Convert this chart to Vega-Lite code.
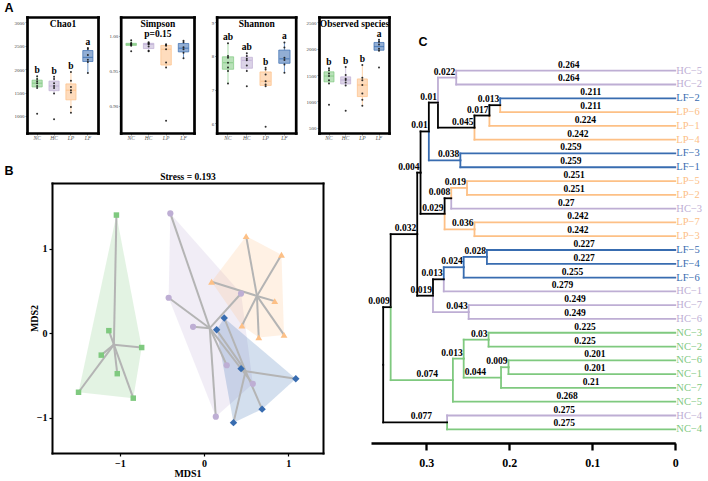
{
"$schema":"https://vega.github.io/schema/vega-lite/v6.json",
"width":708,"height":481,"autosize":{"type":"none"},"padding":0,"background":"white",
"config":{"view":{"stroke":null},"axis":{"grid":false,"domainColor":"#000000","tickColor":"#000000","labelColor":"#000000","titleColor":"#000000","labelFont":"Liberation Serif","titleFont":"Liberation Serif"}},
"datasets":{
"chao1":[
{"g":"NC","lab":"b","v":1050},{"g":"NC","lab":"b","v":1600},{"g":"NC","lab":"b","v":1640},{"g":"NC","lab":"b","v":1700},{"g":"NC","lab":"b","v":1740},{"g":"NC","lab":"b","v":1790},{"g":"NC","lab":"b","v":1850},
{"g":"HC","lab":"b","v":930},{"g":"HC","lab":"b","v":1480},{"g":"HC","lab":"b","v":1600},{"g":"HC","lab":"b","v":1640},{"g":"HC","lab":"b","v":1700},{"g":"HC","lab":"b","v":1790},{"g":"HC","lab":"b","v":1840},
{"g":"LP","lab":"b","v":1070},{"g":"LP","lab":"b","v":1190},{"g":"LP","lab":"b","v":1500},{"g":"LP","lab":"b","v":1550},{"g":"LP","lab":"b","v":1620},{"g":"LP","lab":"b","v":1750},{"g":"LP","lab":"b","v":1940},
{"g":"LF","lab":"a","v":1920},{"g":"LF","lab":"a","v":2150},{"g":"LF","lab":"a","v":2200},{"g":"LF","lab":"a","v":2300},{"g":"LF","lab":"a","v":2430},{"g":"LF","lab":"a","v":2450}],
"simpson":[
{"g":"NC","v":0.978},{"g":"NC","v":0.986},{"g":"NC","v":0.987},{"g":"NC","v":0.988},{"g":"NC","v":0.989},{"g":"NC","v":0.990},{"g":"NC","v":0.994},
{"g":"HC","v":0.978},{"g":"HC","v":0.979},{"g":"HC","v":0.985},{"g":"HC","v":0.988},{"g":"HC","v":0.989},{"g":"HC","v":0.990},{"g":"HC","v":0.991},
{"g":"LP","v":0.879},{"g":"LP","v":0.955},{"g":"LP","v":0.962},{"g":"LP","v":0.981},{"g":"LP","v":0.986},{"g":"LP","v":0.987},{"g":"LP","v":0.988},
{"g":"LF","v":0.968},{"g":"LF","v":0.976},{"g":"LF","v":0.981},{"g":"LF","v":0.984},{"g":"LF","v":0.991},{"g":"LF","v":0.993}],
"shannon":[
{"g":"NC","lab":"ab","v":7.18},{"g":"NC","lab":"ab","v":7.55},{"g":"NC","lab":"ab","v":7.66},{"g":"NC","lab":"ab","v":7.8},{"g":"NC","lab":"ab","v":7.95},{"g":"NC","lab":"ab","v":8.0},{"g":"NC","lab":"ab","v":8.38},
{"g":"HC","lab":"ab","v":7.1},{"g":"HC","lab":"ab","v":7.55},{"g":"HC","lab":"ab","v":7.72},{"g":"HC","lab":"ab","v":7.87},{"g":"HC","lab":"ab","v":7.92},{"g":"HC","lab":"ab","v":8.0},{"g":"HC","lab":"ab","v":8.08},
{"g":"LP","lab":"b","v":5.9},{"g":"LP","lab":"b","v":7.1},{"g":"LP","lab":"b","v":7.15},{"g":"LP","lab":"b","v":7.25},{"g":"LP","lab":"b","v":7.45},{"g":"LP","lab":"b","v":7.6},{"g":"LP","lab":"b","v":7.65},
{"g":"LF","lab":"a","v":7.5},{"g":"LF","lab":"a","v":7.75},{"g":"LF","lab":"a","v":7.88},{"g":"LF","lab":"a","v":7.95},{"g":"LF","lab":"a","v":8.25},{"g":"LF","lab":"a","v":8.4}],
"obs":[
{"g":"NC","lab":"b","v":937},{"g":"NC","lab":"b","v":1340},{"g":"NC","lab":"b","v":1400},{"g":"NC","lab":"b","v":1480},{"g":"NC","lab":"b","v":1530},{"g":"NC","lab":"b","v":1590},{"g":"NC","lab":"b","v":1630},
{"g":"HC","lab":"b","v":823},{"g":"HC","lab":"b","v":1300},{"g":"HC","lab":"b","v":1360},{"g":"HC","lab":"b","v":1405},{"g":"HC","lab":"b","v":1430},{"g":"HC","lab":"b","v":1500},{"g":"HC","lab":"b","v":1650},
{"g":"LP","lab":"b","v":918},{"g":"LP","lab":"b","v":1030},{"g":"LP","lab":"b","v":1150},{"g":"LP","lab":"b","v":1310},{"g":"LP","lab":"b","v":1400},{"g":"LP","lab":"b","v":1450},{"g":"LP","lab":"b","v":1690},
{"g":"LF","lab":"a","v":1640},{"g":"LF","lab":"a","v":1960},{"g":"LF","lab":"a","v":2000},{"g":"LF","lab":"a","v":2080},{"g":"LF","lab":"a","v":2130},{"g":"LF","lab":"a","v":2170}],
"nmds":[
{"g":"NC","x":-1.04,"y":1.40,"h":1},{"g":"NC","x":-0.74,"y":-0.17,"h":2},{"g":"NC","x":-0.84,"y":-0.77,"h":3},{"g":"NC","x":-1.49,"y":-0.70,"h":4},{"g":"NC","x":-1.13,"y":0.03,"h":null},{"g":"NC","x":-1.22,"y":-0.26,"h":null},{"g":"NC","x":-1.03,"y":-0.48,"h":null},
{"g":"HC","x":-0.40,"y":1.42,"h":1},{"g":"HC","x":0.44,"y":0.47,"h":2},{"g":"HC","x":0.58,"y":-0.60,"h":3},{"g":"HC","x":0.14,"y":-0.99,"h":4},{"g":"HC","x":-0.42,"y":0.42,"h":5},{"g":"HC","x":-0.13,"y":0.075,"h":null},{"g":"HC","x":0.27,"y":-0.38,"h":null},
{"g":"LP","x":0.50,"y":1.15,"h":1},{"g":"LP","x":0.92,"y":0.93,"h":2},{"g":"LP","x":0.95,"y":-0.02,"h":3},{"g":"LP","x":0.65,"y":-0.05,"h":4},{"g":"LP","x":0.45,"y":0.09,"h":5},{"g":"LP","x":0.09,"y":0.61,"h":6},{"g":"LP","x":0.84,"y":0.38,"h":null},
{"g":"LF","x":0.24,"y":0.18,"h":1},{"g":"LF","x":1.09,"y":-0.54,"h":2},{"g":"LF","x":0.69,"y":-0.90,"h":3},{"g":"LF","x":0.35,"y":-1.06,"h":4},{"g":"LF","x":0.15,"y":0.04,"h":5},{"g":"LF","x":0.44,"y":-0.42,"h":null}],
"tree":[
{"c":"HC−5","hp":0.264,"hc":0,"yp":0.5,"yc":0,"col":"HC","lab":"0.264"},
{"c":"HC−2","hp":0.264,"hc":0,"yp":0.5,"yc":1,"col":"HC","lab":"0.264"},
{"c":"LF−2","hp":0.211,"hc":0,"yp":2.5,"yc":2,"col":"LF","lab":"0.211"},
{"c":"LP−6","hp":0.211,"hc":0,"yp":2.5,"yc":3,"col":"LP","lab":"0.211"},
{"c":"LP−1","hp":0.224,"hc":0,"yp":3.25,"yc":4,"col":"LP","lab":"0.224"},
{"c":"LP−4","hp":0.242,"hc":0,"yp":4.125,"yc":5,"col":"LP","lab":"0.242"},
{"c":"LF−3","hp":0.259,"hc":0,"yp":6.5,"yc":6,"col":"LF","lab":"0.259"},
{"c":"LF−1","hp":0.259,"hc":0,"yp":6.5,"yc":7,"col":"LF","lab":"0.259"},
{"c":"LP−5","hp":0.251,"hc":0,"yp":8.5,"yc":8,"col":"LP","lab":"0.251"},
{"c":"LP−2","hp":0.251,"hc":0,"yp":8.5,"yc":9,"col":"LP","lab":"0.251"},
{"c":"HC−3","hp":0.27,"hc":0,"yp":9.25,"yc":10,"col":"HC","lab":"0.27"},
{"c":"LP−7","hp":0.242,"hc":0,"yp":11.5,"yc":11,"col":"LP","lab":"0.242"},
{"c":"LP−3","hp":0.242,"hc":0,"yp":11.5,"yc":12,"col":"LP","lab":"0.242"},
{"c":"LF−5","hp":0.227,"hc":0,"yp":13.5,"yc":13,"col":"LF","lab":"0.227"},
{"c":"LF−4","hp":0.227,"hc":0,"yp":13.5,"yc":14,"col":"LF","lab":"0.227"},
{"c":"LF−6","hp":0.255,"hc":0,"yp":14.25,"yc":15,"col":"LF","lab":"0.255"},
{"c":"HC−1","hp":0.279,"hc":0,"yp":15.125,"yc":16,"col":"HC","lab":"0.279"},
{"c":"HC−7","hp":0.249,"hc":0,"yp":17.5,"yc":17,"col":"HC","lab":"0.249"},
{"c":"HC−6","hp":0.249,"hc":0,"yp":17.5,"yc":18,"col":"HC","lab":"0.249"},
{"c":"NC−3","hp":0.225,"hc":0,"yp":19.5,"yc":19,"col":"NC","lab":"0.225"},
{"c":"NC−2","hp":0.225,"hc":0,"yp":19.5,"yc":20,"col":"NC","lab":"0.225"},
{"c":"NC−6","hp":0.201,"hc":0,"yp":21.5,"yc":21,"col":"NC","lab":"0.201"},
{"c":"NC−1","hp":0.201,"hc":0,"yp":21.5,"yc":22,"col":"NC","lab":"0.201"},
{"c":"NC−7","hp":0.21,"hc":0,"yp":22.25,"yc":23,"col":"NC","lab":"0.21"},
{"c":"NC−5","hp":0.268,"hc":0,"yp":22.4375,"yc":24,"col":"NC","lab":"0.268"},
{"c":"HC−4","hp":0.275,"hc":0,"yp":25.5,"yc":25,"col":"HC","lab":"0.275"},
{"c":"NC−4","hp":0.275,"hc":0,"yp":25.5,"yc":26,"col":"NC","lab":"0.275"},
{"c":"n1","hp":0.224,"hc":0.211,"yp":3.25,"yc":2.5,"col":"mix","lab":"0.013"},
{"c":"n2","hp":0.242,"hc":0.224,"yp":4.125,"yc":3.25,"col":"mix","lab":"0.017"},
{"c":"n3","hp":0.286,"hc":0.242,"yp":2.3125,"yc":4.125,"col":"mix","lab":"0.045"},
{"c":"n4","hp":0.286,"hc":0.264,"yp":2.3125,"yc":0.5,"col":"HC","lab":"0.022"},
{"c":"n5","hp":0.297,"hc":0.286,"yp":4.40625,"yc":2.3125,"col":"mix","lab":"0.01"},
{"c":"n6","hp":0.297,"hc":0.259,"yp":4.40625,"yc":6.5,"col":"LF","lab":"0.038"},
{"c":"n7","hp":0.307,"hc":0.297,"yp":7.390625,"yc":4.40625,"col":"mix","lab":"0.01"},
{"c":"n8","hp":0.27,"hc":0.251,"yp":9.25,"yc":8.5,"col":"LP","lab":"0.019"},
{"c":"n9","hp":0.278,"hc":0.27,"yp":10.375,"yc":9.25,"col":"mix","lab":"0.008"},
{"c":"n10","hp":0.278,"hc":0.242,"yp":10.375,"yc":11.5,"col":"LP","lab":"0.036"},
{"c":"n11","hp":0.307,"hc":0.278,"yp":7.390625,"yc":10.375,"col":"mix","lab":"0.029"},
{"c":"n12","hp":0.311,"hc":0.307,"yp":11.8515625,"yc":7.390625,"col":"mix","lab":"0.004"},
{"c":"n13","hp":0.255,"hc":0.227,"yp":14.25,"yc":13.5,"col":"LF","lab":"0.028"},
{"c":"n14","hp":0.279,"hc":0.255,"yp":15.125,"yc":14.25,"col":"LF","lab":"0.024"},
{"c":"n15","hp":0.292,"hc":0.279,"yp":16.3125,"yc":15.125,"col":"mix","lab":"0.013"},
{"c":"n16","hp":0.292,"hc":0.249,"yp":16.3125,"yc":17.5,"col":"HC","lab":"0.043"},
{"c":"n17","hp":0.311,"hc":0.292,"yp":11.8515625,"yc":16.3125,"col":"mix","lab":"0.019"},
{"c":"n18","hp":0.343,"hc":0.311,"yp":17.14453125,"yc":11.8515625,"col":"mix","lab":"0.032"},
{"c":"n19","hp":0.255,"hc":0.225,"yp":20.875,"yc":19.5,"col":"NC","lab":"0.03"},
{"c":"n20","hp":0.21,"hc":0.201,"yp":22.25,"yc":21.5,"col":"NC","lab":"0.009"},
{"c":"n21","hp":0.255,"hc":0.21,"yp":20.875,"yc":22.25,"col":"NC","lab":"0.044"},
{"c":"n22","hp":0.268,"hc":0.255,"yp":22.4375,"yc":20.875,"col":"NC","lab":"0.013"},
{"c":"n23","hp":0.343,"hc":0.268,"yp":17.14453125,"yc":22.4375,"col":"NC","lab":"0.074"},
{"c":"n24","hp":0.352,"hc":0.343,"yp":21.322265625,"yc":17.14453125,"col":"mix","lab":"0.009"},
{"c":"n25","hp":0.352,"hc":0.275,"yp":21.322265625,"yc":25.5,"col":"mix","lab":"0.077"}]
},
"resolve":{"scale":{"x":"independent","y":"independent","color":"independent","fill":"independent","stroke":"independent","shape":"independent","size":"independent","opacity":"independent"},"axis":{"x":"independent","y":"independent"}},
"layer":[
{"data":{"name":"chao1"},"resolve":{"axis":{"x":"independent","y":"independent"}},
"layer":[
 {"transform":[
   {"joinaggregate":[{"op":"q1","field":"v","as":"q1"},{"op":"q3","field":"v","as":"q3"},{"op":"median","field":"v","as":"med"}],"groupby":["g"]},
   {"filter":"datum.v >= datum.q1 - 1.5*(datum.q3-datum.q1) && datum.v <= datum.q3 + 1.5*(datum.q3-datum.q1)"},
   {"aggregate":[{"op":"min","field":"v","as":"lo"},{"op":"max","field":"v","as":"hi"},{"op":"min","field":"q1","as":"bq1"},{"op":"min","field":"q3","as":"bq3"},{"op":"min","field":"med","as":"bmed"}],"groupby":["g"]}],
  "layer":[
   {"mark":{"type":"rule","strokeWidth":0.7},"encoding":{
     "x":{"field":"g","type":"nominal","scale":{"type":"band","domain":["NC","HC","LP","LF"],"range":[27,98],"paddingInner":0,"paddingOuter":0.1},"axis":null},
     "y":{"field":"lo","type":"quantitative","scale":{"domain":[637,3113],"range":[133,17],"nice":false,"zero":false},"axis":null},
     "y2":{"field":"bq1"},
     "color":{"field":"g","type":"nominal","scale":{"domain":["NC","HC","LP","LF"],"range":["#7fc97f","#beaed4","#fdc086","#386cb0"]},"legend":null}}},
   {"mark":{"type":"rule","strokeWidth":0.7},"encoding":{
     "x":{"field":"g","type":"nominal","axis":null},
     "y":{"field":"bq3","type":"quantitative","axis":null},
     "y2":{"field":"hi"},
     "color":{"field":"g","type":"nominal","legend":null}}},
   {"mark":{"type":"bar","width":{"band":0.6},"fillOpacity":0.55,"strokeWidth":0.7},"encoding":{
     "x":{"field":"g","type":"nominal","axis":null},
     "y":{"field":"bq1","type":"quantitative","axis":null},
     "y2":{"field":"bq3"},
     "fill":{"field":"g","type":"nominal","scale":{"domain":["NC","HC","LP","LF"],"range":["#7fc97f","#beaed4","#fdc086","#386cb0"]},"legend":null},
     "stroke":{"field":"g","type":"nominal","scale":{"domain":["NC","HC","LP","LF"],"range":["#7fc97f","#beaed4","#fdc086","#386cb0"]},"legend":null}}},
   {"mark":{"type":"tick","size":10,"thickness":1.2},"encoding":{
     "x":{"field":"g","type":"nominal","axis":null},
     "y":{"field":"bmed","type":"quantitative","axis":null},
     "color":{"field":"g","type":"nominal","legend":null}}}
  ]},
 {"mark":{"type":"point","filled":true,"size":4,"color":"#1a1a1a","opacity":0.9},"encoding":{
   "x":{"field":"g","type":"nominal","scale":{"type":"band","domain":["NC","HC","LP","LF"],"range":[27,98],"paddingInner":0,"paddingOuter":0.1},"axis":{"orient":"bottom","offset":-348,"labelAngle":0,"labelFontSize":5.5,"labelFontStyle":"italic","labelColor":"#555555","labelPadding":0,"tickSize":2,"tickWidth":0.5,"tickColor":"#333333","domainWidth":2.7,"domainCap":"square","title":null}},
   "y":{"field":"v","type":"quantitative","scale":{"domain":[637,3113],"range":[133,17],"nice":false,"zero":false},"axis":{"orient":"left","offset":-27,"values":[1000,1500,2000,2500,3000],"format":"d","labelFontSize":5,"labelColor":"#444444","labelPadding":1,"tickSize":2,"tickWidth":0.5,"tickColor":"#333333","domainWidth":2.7,"domainCap":"square","title":"A","titleAngle":0,"titleX":-23,"titleY":11,"titleAlign":"left","titleBaseline":"alphabetic","titleFont":"Liberation Sans","titleFontSize":12.5,"titleFontWeight":"bold"}}}},
 {"transform":[{"aggregate":[{"op":"max","field":"v","as":"mx"}],"groupby":["g","lab"]}],
  "mark":{"type":"text","font":"Liberation Serif","fontWeight":"bold","fontSize":9.5,"baseline":"bottom","dy":-1},
  "encoding":{
   "x":{"field":"g","type":"nominal","scale":{"type":"band","domain":["NC","HC","LP","LF"],"range":[27,98],"paddingInner":0,"paddingOuter":0.1},"axis":{"orient":"top","offset":-17,"labels":false,"ticks":false,"domainWidth":2.7,"domainCap":"square","title":"Chao1","titleY":9,"titleBaseline":"alphabetic","titleFontSize":9.5,"titleFontWeight":"bold"}},
   "y":{"field":"mx","type":"quantitative","scale":{"domain":[637,3113],"range":[133,17],"nice":false,"zero":false},"axis":{"orient":"right","offset":-610,"labels":false,"ticks":false,"domainWidth":2.7,"domainCap":"square","title":null}},
   "text":{"field":"lab"}}}
]},
{"data":{"name":"simpson"},"resolve":{"axis":{"x":"independent","y":"independent"}},
"layer":[
 {"transform":[
   {"joinaggregate":[{"op":"q1","field":"v","as":"q1"},{"op":"q3","field":"v","as":"q3"},{"op":"median","field":"v","as":"med"}],"groupby":["g"]},
   {"filter":"datum.v >= datum.q1 - 1.5*(datum.q3-datum.q1) && datum.v <= datum.q3 + 1.5*(datum.q3-datum.q1)"},
   {"aggregate":[{"op":"min","field":"v","as":"lo"},{"op":"max","field":"v","as":"hi"},{"op":"min","field":"q1","as":"bq1"},{"op":"min","field":"q3","as":"bq3"},{"op":"min","field":"med","as":"bmed"}],"groupby":["g"]}],
  "layer":[
   {"mark":{"type":"rule","strokeWidth":0.7},"encoding":{
     "x":{"field":"g","type":"nominal","scale":{"type":"band","domain":["NC","HC","LP","LF"],"range":[120.7,194],"paddingInner":0,"paddingOuter":0.1},"axis":null},
     "y":{"field":"lo","type":"quantitative","scale":{"domain":[0.8614,1.0271],"range":[133,17],"nice":false,"zero":false},"axis":null},
     "y2":{"field":"bq1"},
     "color":{"field":"g","type":"nominal","scale":{"domain":["NC","HC","LP","LF"],"range":["#7fc97f","#beaed4","#fdc086","#386cb0"]},"legend":null}}},
   {"mark":{"type":"rule","strokeWidth":0.7},"encoding":{
     "x":{"field":"g","type":"nominal","axis":null},
     "y":{"field":"bq3","type":"quantitative","axis":null},
     "y2":{"field":"hi"},
     "color":{"field":"g","type":"nominal","legend":null}}},
   {"mark":{"type":"bar","width":{"band":0.6},"fillOpacity":0.55,"strokeWidth":0.7},"encoding":{
     "x":{"field":"g","type":"nominal","axis":null},
     "y":{"field":"bq1","type":"quantitative","axis":null},
     "y2":{"field":"bq3"},
     "fill":{"field":"g","type":"nominal","scale":{"domain":["NC","HC","LP","LF"],"range":["#7fc97f","#beaed4","#fdc086","#386cb0"]},"legend":null},
     "stroke":{"field":"g","type":"nominal","scale":{"domain":["NC","HC","LP","LF"],"range":["#7fc97f","#beaed4","#fdc086","#386cb0"]},"legend":null}}},
   {"mark":{"type":"tick","size":10,"thickness":1.2},"encoding":{
     "x":{"field":"g","type":"nominal","axis":null},
     "y":{"field":"bmed","type":"quantitative","axis":null},
     "color":{"field":"g","type":"nominal","legend":null}}}
  ]},
 {"mark":{"type":"point","filled":true,"size":4,"color":"#1a1a1a","opacity":0.9},"encoding":{
   "x":{"field":"g","type":"nominal","scale":{"type":"band","domain":["NC","HC","LP","LF"],"range":[120.7,194],"paddingInner":0,"paddingOuter":0.1},"axis":{"orient":"bottom","offset":-348,"labelAngle":0,"labelFontSize":5.5,"labelFontStyle":"italic","labelColor":"#555555","labelPadding":0,"tickSize":2,"tickWidth":0.5,"tickColor":"#333333","domainWidth":2.7,"domainCap":"square","title":null}},
   "y":{"field":"v","type":"quantitative","scale":{"domain":[0.8614,1.0271],"range":[133,17],"nice":false,"zero":false},"axis":{"orient":"left","offset":-120.7,"values":[0.9,0.95,1.0],"format":".2f","labelFontSize":5,"labelColor":"#444444","labelPadding":1,"tickSize":2,"tickWidth":0.5,"tickColor":"#333333","domainWidth":2.7,"domainCap":"square","title":null}}}},
 {"mark":{"type":"point","size":1,"opacity":0},"encoding":{
   "x":{"field":"g","type":"nominal","scale":{"type":"band","domain":["NC","HC","LP","LF"],"range":[120.7,194],"paddingInner":0,"paddingOuter":0.1},"axis":{"orient":"top","offset":-17,"labels":false,"ticks":false,"domainWidth":2.7,"domainCap":"square","title":["Simpson","p=0.15"],"titleLineHeight":10.5,"titleY":9,"titleBaseline":"alphabetic","titleFontSize":9.5,"titleFontWeight":"bold"}},
   "y":{"field":"v","type":"quantitative","scale":{"domain":[0.8614,1.0271],"range":[133,17],"nice":false,"zero":false},"axis":{"orient":"right","offset":-514,"labels":false,"ticks":false,"domainWidth":2.7,"domainCap":"square","title":null}}}}
]},
{"data":{"name":"shannon"},"resolve":{"axis":{"x":"independent","y":"independent"}},
"layer":[
 {"transform":[
   {"joinaggregate":[{"op":"q1","field":"v","as":"q1"},{"op":"q3","field":"v","as":"q3"},{"op":"median","field":"v","as":"med"}],"groupby":["g"]},
   {"filter":"datum.v >= datum.q1 - 1.5*(datum.q3-datum.q1) && datum.v <= datum.q3 + 1.5*(datum.q3-datum.q1)"},
   {"aggregate":[{"op":"min","field":"v","as":"lo"},{"op":"max","field":"v","as":"hi"},{"op":"min","field":"q1","as":"bq1"},{"op":"min","field":"q3","as":"bq3"},{"op":"min","field":"med","as":"bmed"}],"groupby":["g"]}],
  "layer":[
   {"mark":{"type":"rule","strokeWidth":0.7},"encoding":{
     "x":{"field":"g","type":"nominal","scale":{"type":"band","domain":["NC","HC","LP","LF"],"range":[216.7,295.7],"paddingInner":0,"paddingOuter":0.1},"axis":null},
     "y":{"field":"lo","type":"quantitative","scale":{"domain":[5.712,9.157],"range":[133,17],"nice":false,"zero":false},"axis":null},
     "y2":{"field":"bq1"},
     "color":{"field":"g","type":"nominal","scale":{"domain":["NC","HC","LP","LF"],"range":["#7fc97f","#beaed4","#fdc086","#386cb0"]},"legend":null}}},
   {"mark":{"type":"rule","strokeWidth":0.7},"encoding":{
     "x":{"field":"g","type":"nominal","axis":null},
     "y":{"field":"bq3","type":"quantitative","axis":null},
     "y2":{"field":"hi"},
     "color":{"field":"g","type":"nominal","legend":null}}},
   {"mark":{"type":"bar","width":{"band":0.6},"fillOpacity":0.55,"strokeWidth":0.7},"encoding":{
     "x":{"field":"g","type":"nominal","axis":null},
     "y":{"field":"bq1","type":"quantitative","axis":null},
     "y2":{"field":"bq3"},
     "fill":{"field":"g","type":"nominal","scale":{"domain":["NC","HC","LP","LF"],"range":["#7fc97f","#beaed4","#fdc086","#386cb0"]},"legend":null},
     "stroke":{"field":"g","type":"nominal","scale":{"domain":["NC","HC","LP","LF"],"range":["#7fc97f","#beaed4","#fdc086","#386cb0"]},"legend":null}}},
   {"mark":{"type":"tick","size":10,"thickness":1.2},"encoding":{
     "x":{"field":"g","type":"nominal","axis":null},
     "y":{"field":"bmed","type":"quantitative","axis":null},
     "color":{"field":"g","type":"nominal","legend":null}}}
  ]},
 {"mark":{"type":"point","filled":true,"size":4,"color":"#1a1a1a","opacity":0.9},"encoding":{
   "x":{"field":"g","type":"nominal","scale":{"type":"band","domain":["NC","HC","LP","LF"],"range":[216.7,295.7],"paddingInner":0,"paddingOuter":0.1},"axis":{"orient":"bottom","offset":-348,"labelAngle":0,"labelFontSize":5.5,"labelFontStyle":"italic","labelColor":"#555555","labelPadding":0,"tickSize":2,"tickWidth":0.5,"tickColor":"#333333","domainWidth":2.7,"domainCap":"square","title":null}},
   "y":{"field":"v","type":"quantitative","scale":{"domain":[5.712,9.157],"range":[133,17],"nice":false,"zero":false},"axis":{"orient":"left","offset":-216.7,"values":[6,7,8,9],"format":"d","labelFontSize":5,"labelColor":"#444444","labelPadding":1,"tickSize":2,"tickWidth":0.5,"tickColor":"#333333","domainWidth":2.7,"domainCap":"square","title":null}}}},
 {"transform":[{"aggregate":[{"op":"max","field":"v","as":"mx"}],"groupby":["g","lab"]}],
  "mark":{"type":"text","font":"Liberation Serif","fontWeight":"bold","fontSize":9.5,"baseline":"bottom","dy":-1},
  "encoding":{
   "x":{"field":"g","type":"nominal","scale":{"type":"band","domain":["NC","HC","LP","LF"],"range":[216.7,295.7],"paddingInner":0,"paddingOuter":0.1},"axis":{"orient":"top","offset":-17,"labels":false,"ticks":false,"domainWidth":2.7,"domainCap":"square","title":"Shannon","titleY":9,"titleBaseline":"alphabetic","titleFontSize":9.5,"titleFontWeight":"bold"}},
   "y":{"field":"mx","type":"quantitative","scale":{"domain":[5.712,9.157],"range":[133,17],"nice":false,"zero":false},"axis":{"orient":"right","offset":-412.3,"labels":false,"ticks":false,"domainWidth":2.7,"domainCap":"square","title":null}},
   "text":{"field":"lab"}}}
]},
{"data":{"name":"obs"},"resolve":{"axis":{"x":"independent","y":"independent"}},
"layer":[
 {"transform":[
   {"joinaggregate":[{"op":"q1","field":"v","as":"q1"},{"op":"q3","field":"v","as":"q3"},{"op":"median","field":"v","as":"med"}],"groupby":["g"]},
   {"filter":"datum.v >= datum.q1 - 1.5*(datum.q3-datum.q1) && datum.v <= datum.q3 + 1.5*(datum.q3-datum.q1)"},
   {"aggregate":[{"op":"min","field":"v","as":"lo"},{"op":"max","field":"v","as":"hi"},{"op":"min","field":"q1","as":"bq1"},{"op":"min","field":"q3","as":"bq3"},{"op":"min","field":"med","as":"bmed"}],"groupby":["g"]}],
  "layer":[
   {"mark":{"type":"rule","strokeWidth":0.7},"encoding":{
     "x":{"field":"g","type":"nominal","scale":{"type":"band","domain":["NC","HC","LP","LF"],"range":[319,389],"paddingInner":0,"paddingOuter":0.1},"axis":null},
     "y":{"field":"lo","type":"quantitative","scale":{"domain":[399.4,2600.6],"range":[133,17],"nice":false,"zero":false},"axis":null},
     "y2":{"field":"bq1"},
     "color":{"field":"g","type":"nominal","scale":{"domain":["NC","HC","LP","LF"],"range":["#7fc97f","#beaed4","#fdc086","#386cb0"]},"legend":null}}},
   {"mark":{"type":"rule","strokeWidth":0.7},"encoding":{
     "x":{"field":"g","type":"nominal","axis":null},
     "y":{"field":"bq3","type":"quantitative","axis":null},
     "y2":{"field":"hi"},
     "color":{"field":"g","type":"nominal","legend":null}}},
   {"mark":{"type":"bar","width":{"band":0.6},"fillOpacity":0.55,"strokeWidth":0.7},"encoding":{
     "x":{"field":"g","type":"nominal","axis":null},
     "y":{"field":"bq1","type":"quantitative","axis":null},
     "y2":{"field":"bq3"},
     "fill":{"field":"g","type":"nominal","scale":{"domain":["NC","HC","LP","LF"],"range":["#7fc97f","#beaed4","#fdc086","#386cb0"]},"legend":null},
     "stroke":{"field":"g","type":"nominal","scale":{"domain":["NC","HC","LP","LF"],"range":["#7fc97f","#beaed4","#fdc086","#386cb0"]},"legend":null}}},
   {"mark":{"type":"tick","size":10,"thickness":1.2},"encoding":{
     "x":{"field":"g","type":"nominal","axis":null},
     "y":{"field":"bmed","type":"quantitative","axis":null},
     "color":{"field":"g","type":"nominal","legend":null}}}
  ]},
 {"mark":{"type":"point","filled":true,"size":4,"color":"#1a1a1a","opacity":0.9},"encoding":{
   "x":{"field":"g","type":"nominal","scale":{"type":"band","domain":["NC","HC","LP","LF"],"range":[319,389],"paddingInner":0,"paddingOuter":0.1},"axis":{"orient":"bottom","offset":-348,"labelAngle":0,"labelFontSize":5.5,"labelFontStyle":"italic","labelColor":"#555555","labelPadding":0,"tickSize":2,"tickWidth":0.5,"tickColor":"#333333","domainWidth":2.7,"domainCap":"square","title":null}},
   "y":{"field":"v","type":"quantitative","scale":{"domain":[399.4,2600.6],"range":[133,17],"nice":false,"zero":false},"axis":{"orient":"left","offset":-319,"values":[500,1000,1500,2000,2500],"format":"d","labelFontSize":5,"labelColor":"#444444","labelPadding":1,"tickSize":2,"tickWidth":0.5,"tickColor":"#333333","domainWidth":2.7,"domainCap":"square","title":null}}}},
 {"transform":[{"aggregate":[{"op":"max","field":"v","as":"mx"}],"groupby":["g","lab"]}],
  "mark":{"type":"text","font":"Liberation Serif","fontWeight":"bold","fontSize":9.5,"baseline":"bottom","dy":-1},
  "encoding":{
   "x":{"field":"g","type":"nominal","scale":{"type":"band","domain":["NC","HC","LP","LF"],"range":[319,389],"paddingInner":0,"paddingOuter":0.1},"axis":{"orient":"top","offset":-17,"labels":false,"ticks":false,"domainWidth":2.7,"domainCap":"square","title":"Observed species","titleY":9,"titleBaseline":"alphabetic","titleFontSize":9.5,"titleFontWeight":"bold"}},
   "y":{"field":"mx","type":"quantitative","scale":{"domain":[399.4,2600.6],"range":[133,17],"nice":false,"zero":false},"axis":{"orient":"right","offset":-319,"labels":false,"ticks":false,"domainWidth":2.7,"domainCap":"square","title":null}},
   "text":{"field":"lab"}}}
]},
{"data":{"name":"nmds"},"resolve":{"axis":{"x":"independent","y":"independent"}},
"layer":[
 {"transform":[{"filter":{"field":"h","valid":true}}],
  "mark":{"type":"line","filled":true,"fillOpacity":0.22,"strokeWidth":0,"interpolate":"linear-closed"},
  "encoding":{
   "x":{"field":"x","type":"quantitative","scale":{"domain":[-1.805,1.413],"range":[52,323],"nice":false,"zero":false},"axis":null},
   "y":{"field":"y","type":"quantitative","scale":{"domain":[-1.42,1.78],"range":[453,183],"nice":false,"zero":false},"axis":null},
   "order":{"field":"h","type":"quantitative"},
   "color":{"field":"g","type":"nominal","scale":{"domain":["NC","HC","LP","LF"],"range":["#7fc97f","#beaed4","#fdc086","#386cb0"]},"legend":null}}},
 {"transform":[{"joinaggregate":[{"op":"mean","field":"x","as":"cx"},{"op":"mean","field":"y","as":"cy"}],"groupby":["g"]}],
  "mark":{"type":"rule","color":"#b4b4b4","strokeWidth":2},
  "encoding":{
   "x":{"field":"x","type":"quantitative","scale":{"domain":[-1.805,1.413],"range":[52,323],"nice":false,"zero":false},"axis":{"orient":"top","offset":-183,"labels":false,"ticks":false,"domainWidth":2,"domainCap":"square","title":"Stress = 0.193","titleY":-4,"titleBaseline":"alphabetic","titleFontSize":9.5,"titleFontWeight":"bold"}},
   "y":{"field":"y","type":"quantitative","scale":{"domain":[-1.42,1.78],"range":[453,183],"nice":false,"zero":false},"axis":{"orient":"right","offset":-385,"labels":false,"ticks":false,"domainWidth":2,"domainCap":"square","title":"B","titleAngle":0,"titleX":-319,"titleY":174,"titleAlign":"left","titleBaseline":"alphabetic","titleFont":"Liberation Sans","titleFontSize":12.5,"titleFontWeight":"bold"}},
   "x2":{"field":"cx"},"y2":{"field":"cy"}}},
 {"mark":{"type":"point","filled":true,"opacity":1,"strokeWidth":0},
  "encoding":{
   "x":{"field":"x","type":"quantitative","scale":{"domain":[-1.805,1.413],"range":[52,323],"nice":false,"zero":false},"axis":{"orient":"bottom","offset":-28,"values":[-1,0,1],"format":"~g","labelFontSize":10,"labelFontWeight":"bold","labelFlush":false,"tickSize":3,"tickWidth":1.2,"labelPadding":2,"domainWidth":2,"domainCap":"square","title":"MDS1","titleFontSize":10,"titleFontWeight":"bold","titleY":23,"titleBaseline":"alphabetic"}},
   "y":{"field":"y","type":"quantitative","scale":{"domain":[-1.42,1.78],"range":[453,183],"nice":false,"zero":false},"axis":{"orient":"left","offset":-52,"values":[-1,0,1],"format":"~g","labelFontSize":10,"labelFontWeight":"bold","tickSize":3,"tickWidth":1.2,"labelPadding":2,"domainWidth":2,"domainCap":"square","title":"MDS2","titleFontSize":10,"titleFontWeight":"bold","titleX":-18,"titleBaseline":"middle"}},
   "color":{"field":"g","type":"nominal","scale":{"domain":["NC","HC","LP","LF"],"range":["#6cc26c","#b8a4d8","#fdb46e","#2f66b3"]},"legend":null},
   "shape":{"field":"g","type":"nominal","scale":{"domain":["NC","HC","LP","LF"],"range":["square","circle","triangle-up","diamond"]},"legend":null},
   "size":{"field":"g","type":"nominal","scale":{"domain":["NC","HC","LP","LF"],"range":[30,55,42,28]},"legend":null}}}
]},
{"data":{"name":"tree"},"resolve":{"scale":{"x":"independent"},"axis":{"x":"independent","y":"independent"}},
"layer":[
 {"mark":{"type":"rule","strokeWidth":1.8,"strokeCap":"square"},
  "encoding":{
   "x":{"field":"hp","type":"quantitative","scale":{"domain":[0,0.3667],"range":[675.3,371],"nice":false,"zero":false},"axis":{"orient":"bottom","offset":-38,"values":[0.3,0.2,0.1,0],"format":"~g","labelFlush":false,"labelFontSize":12,"labelFontWeight":"bold","tickSize":7,"tickWidth":2.3,"labelPadding":7.5,"domainWidth":2.3,"title":null}},
   "y":{"field":"yp","type":"quantitative","scale":{"domain":[0,26],"range":[70.7,429.3],"nice":false,"zero":false},"axis":{"orient":"left","offset":0,"domain":false,"ticks":false,"labels":false,"title":"C","titleAngle":0,"titleX":418,"titleY":45,"titleAlign":"left","titleBaseline":"alphabetic","titleFont":"Liberation Sans","titleFontSize":12.5,"titleFontWeight":"bold"}},
   "y2":{"field":"yc"},
   "color":{"field":"col","type":"nominal","scale":{"domain":["NC","HC","LP","LF","mix"],"range":["#7fc97f","#beaed4","#fdc086","#386cb0","#000000"]},"legend":null}}},
 {"mark":{"type":"rule","strokeWidth":1.8,"strokeCap":"square"},
  "encoding":{
   "x":{"field":"hp","type":"quantitative","scale":{"domain":[0,0.3667],"range":[675.3,371],"nice":false,"zero":false},"axis":null},
   "x2":{"field":"hc"},
   "y":{"field":"yc","type":"quantitative","axis":null},
   "color":{"field":"col","type":"nominal","legend":null}}},
 {"transform":[{"filter":"datum.hc > 0 && indexof(['0.074','0.077','0.044'], datum.lab) < 0"}],
  "mark":{"type":"text","font":"Liberation Serif","fontWeight":"bold","fontSize":9.5,"align":"right","baseline":"alphabetic","dx":-1,"dy":-3,"color":"#000000"},
  "encoding":{
   "x":{"field":"hc","type":"quantitative","scale":{"domain":[0,0.3667],"range":[675.3,371],"nice":false,"zero":false},"axis":null},
   "y":{"field":"yc","type":"quantitative","axis":null},
   "text":{"field":"lab"}}},
 {"transform":[{"filter":{"field":"lab","oneOf":["0.074","0.077","0.044"]}}],
  "mark":{"type":"text","font":"Liberation Serif","fontWeight":"bold","fontSize":9.5,"align":"right","baseline":"alphabetic","dx":-15,"dy":-3,"color":"#000000"},
  "encoding":{
   "x":{"field":"hc","type":"quantitative","scale":{"domain":[0,0.3667],"range":[675.3,371],"nice":false,"zero":false},"axis":null},
   "y":{"field":"yc","type":"quantitative","axis":null},
   "text":{"field":"lab"}}},
 {"transform":[{"filter":{"field":"hc","equal":0}}],
  "mark":{"type":"text","font":"Liberation Serif","fontWeight":"bold","fontSize":9.5,"align":"center","baseline":"alphabetic","dx":3,"dy":-3,"color":"#000000"},
  "encoding":{
   "x":{"field":"hp","type":"quantitative","scale":{"domain":[0,0.7334],"range":[675.3,371],"nice":false,"zero":false},"axis":null},
   "y":{"field":"yc","type":"quantitative","axis":null},
   "text":{"field":"lab"}}},
 {"transform":[{"filter":{"field":"hc","equal":0}}],
  "mark":{"type":"text","font":"Liberation Serif","fontSize":10.5,"align":"left","baseline":"middle","dx":1},
  "encoding":{
   "x":{"field":"hc","type":"quantitative","scale":{"domain":[0,0.3667],"range":[675.3,371],"nice":false,"zero":false},"axis":null},
   "y":{"field":"yc","type":"quantitative","axis":null},
   "text":{"field":"c"},
   "color":{"field":"col","type":"nominal","legend":null}}}
]}
]
}
